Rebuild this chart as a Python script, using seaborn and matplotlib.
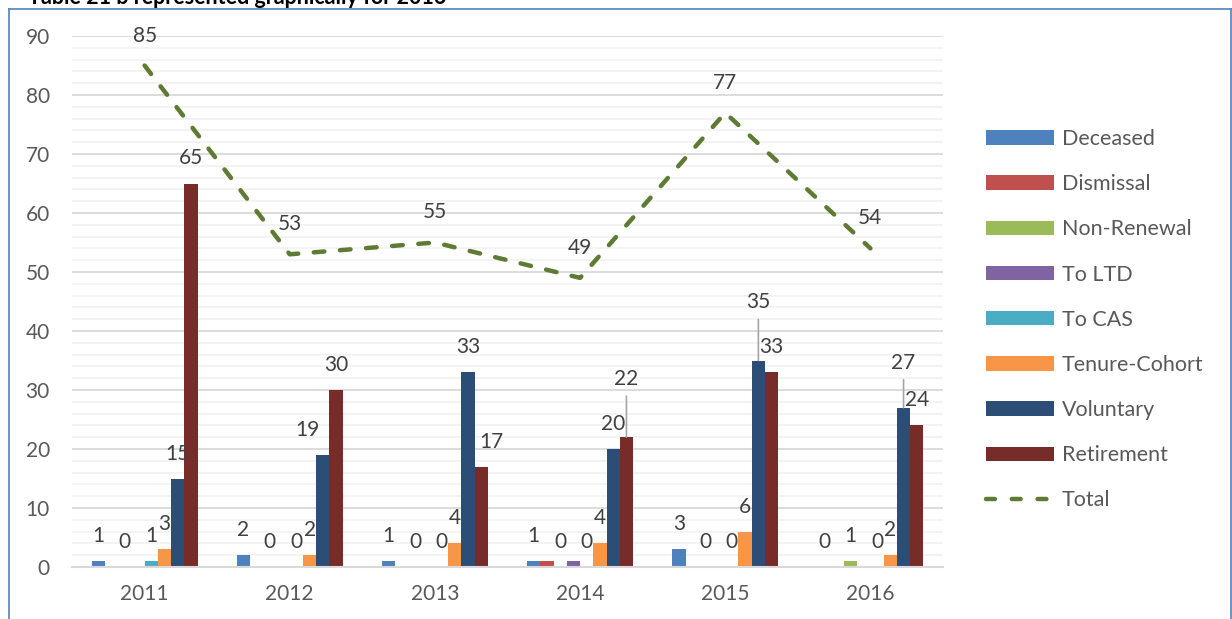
import numpy as np
import pandas as pd
import seaborn as sns
import matplotlib
matplotlib.use("Agg")
import matplotlib.pyplot as plt
from matplotlib.ticker import MultipleLocator
from matplotlib.lines import Line2D
from matplotlib.patches import Patch

# ---------------- data ----------------
years = ["2011", "2012", "2013", "2014", "2015", "2016"]
categories = ["Deceased", "Dismissal", "Non-Renewal", "To LTD", "To CAS",
              "Tenure-Cohort", "Voluntary", "Retirement"]
nan = np.nan
deceased    = [1, 2, 1, 1, 3, 0]
dismissal   = [nan, nan, nan, 1, nan, nan]
non_renewal = [0, 0, 0, 0, 0, 1]
to_ltd      = [nan, nan, nan, 1, nan, nan]
to_cas      = [1, 0, 0, 0, 0, 0]
tenure      = [3, 2, 4, 4, 6, 2]
voluntary   = [15, 19, 33, 20, 35, 27]
retirement  = [65, 30, 17, 22, 33, 24]
total       = [85, 53, 55, 49, 77, 54]
series = [deceased, dismissal, non_renewal, to_ltd, to_cas, tenure, voluntary, retirement]

colors = ["#4F81BD", "#C0504D", "#9BBB59", "#8064A2", "#4BACC6",
          "#F79646", "#2C4D75", "#772C2A"]
total_color = "#5F7A32"

# labels hidden in the original chart
hidden_labels = {("2014", "Dismissal"), ("2014", "To LTD")}
# manual label placements (dx px, dy px above value, leader line)
label_moves = {
    ("2012", "Voluntary"): (-15, 25, False),
    ("2013", "Retirement"): (10, 25, False),
    ("2014", "Retirement"): (0, 58, True),
    ("2015", "Voluntary"): (0, 58, True),
    ("2016", "Voluntary"): (0, 45, True),
}

rows = []
for cat, vals in zip(categories, series):
    for y, v in zip(years, vals):
        rows.append({"year": y, "category": cat, "value": v})
df = pd.DataFrame(rows)

# ---------------- figure ----------------
W, H = 1232, 619
fig = plt.figure(figsize=(W / 100, H / 100), dpi=100)
plt.rcParams["font.family"] = ["Lato", "DejaVu Sans"]
ax = fig.add_axes([72 / W, (H - 567) / H, (943 - 72) / W, (567 - 36) / H])

group_w = 0.73
sns.barplot(data=df.dropna(), x="year", y="value", hue="category",
            order=years, hue_order=categories, palette=colors,
            width=group_w, saturation=1, errorbar=None, ax=ax, legend=False)

xs = np.arange(len(years))
dash_pat = (2.4, 3.5)
sns.lineplot(x=xs, y=total, ax=ax, color=total_color, lw=3.2,
             legend=False, zorder=5)
for ln in ax.lines:
    ln.set_dashes(dash_pat)
    ln.set_dash_capstyle("round")

ax.set_xlim(-0.5, len(years) - 0.5)
ax.set_ylim(0, 90)
ax.yaxis.set_major_locator(MultipleLocator(10))
ax.yaxis.set_minor_locator(MultipleLocator(2))
ax.grid(axis="y", which="major", color="#D9D9D9", lw=1.3, zorder=0)
ax.grid(axis="y", which="minor", color="#F2F2F2", lw=1.3, zorder=0)
ax.grid(axis="x", visible=False)
ax.set_axisbelow(True)
for s in ["top", "right", "left"]:
    ax.spines[s].set_visible(False)
ax.spines["bottom"].set_color("#D9D9D9")
ax.spines["bottom"].set_linewidth(1.5)
ax.tick_params(axis="both", which="both", length=0, labelsize=15,
               labelcolor="#595959")
ax.tick_params(axis="y", pad=16)
ax.tick_params(axis="x", pad=12)
ax.set_xlabel("")
ax.set_ylabel("")

# ---------------- data labels ----------------
nb = len(categories)
bw = group_w / nb
px = 0.72  # px -> points at 100 dpi
for k, (cat, vals) in enumerate(zip(categories, series)):
    for i, (y, v) in enumerate(zip(years, vals)):
        if np.isnan(v) or (y, cat) in hidden_labels:
            continue
        x = i - group_w / 2 + (k + 0.5) * bw
        dx, dy, leader = label_moves.get((y, cat), (0, 25, False))
        kw = {}
        if leader:
            kw["arrowprops"] = dict(arrowstyle="-", color="#A6A6A6", lw=1.2,
                                    shrinkA=3, shrinkB=0)
        ax.annotate(f"{int(v)}", xy=(x, v), xytext=(dx * px, dy * px),
                    textcoords="offset points", ha="center", va="center",
                    fontsize=15, color="#404040", zorder=6, **kw)

for i, v in enumerate(total):
    ax.annotate(f"{v}", xy=(i, v), xytext=(0, 30 * px), textcoords="offset points",
                ha="center", va="center", fontsize=15, color="#404040", zorder=6)

# ---------------- legend ----------------
handles = [Patch(facecolor=c, edgecolor="none") for c in colors]
handles.append(Line2D([0], [0], color=total_color, lw=3.2, dashes=(2.0, 3.8),
                      dash_capstyle="round"))
labels = categories + ["Total"]
fs = 15.5
fpx = fs / 0.72
leg = ax.legend(handles, labels, loc="upper left",
                bbox_to_anchor=(986 / W, 1 - 129 / H), bbox_transform=fig.transFigure,
                frameon=False, fontsize=fs, handlelength=68 / fpx,
                handleheight=14 / fpx, handletextpad=8 / fpx,
                labelspacing=1.17, borderpad=0, borderaxespad=0)
for t in leg.get_texts():
    t.set_color("#595959")

# ---------------- frame & cut title ----------------
frame_c = "#4F81BD"
fig.add_artist(Line2D([9 / W, 9 / W], [0, 1 - 9 / H], transform=fig.transFigure,
                      color=frame_c, lw=1.2))
fig.add_artist(Line2D([9 / W, 1231 / W], [1 - 9 / H, 1 - 9 / H],
                      transform=fig.transFigure, color=frame_c, lw=1.2))
fig.add_artist(Line2D([1231 / W, 1231 / W], [0, 1 - 9 / H], transform=fig.transFigure,
                      color=frame_c, lw=1.2))
fig.text(28 / W, 1 - 4 / H, "Table 21 b represented graphically for 2016",
         fontsize=15.5, fontweight="bold", color="#000000", ha="left", va="baseline")

fig.savefig("out.png", dpi=100)
